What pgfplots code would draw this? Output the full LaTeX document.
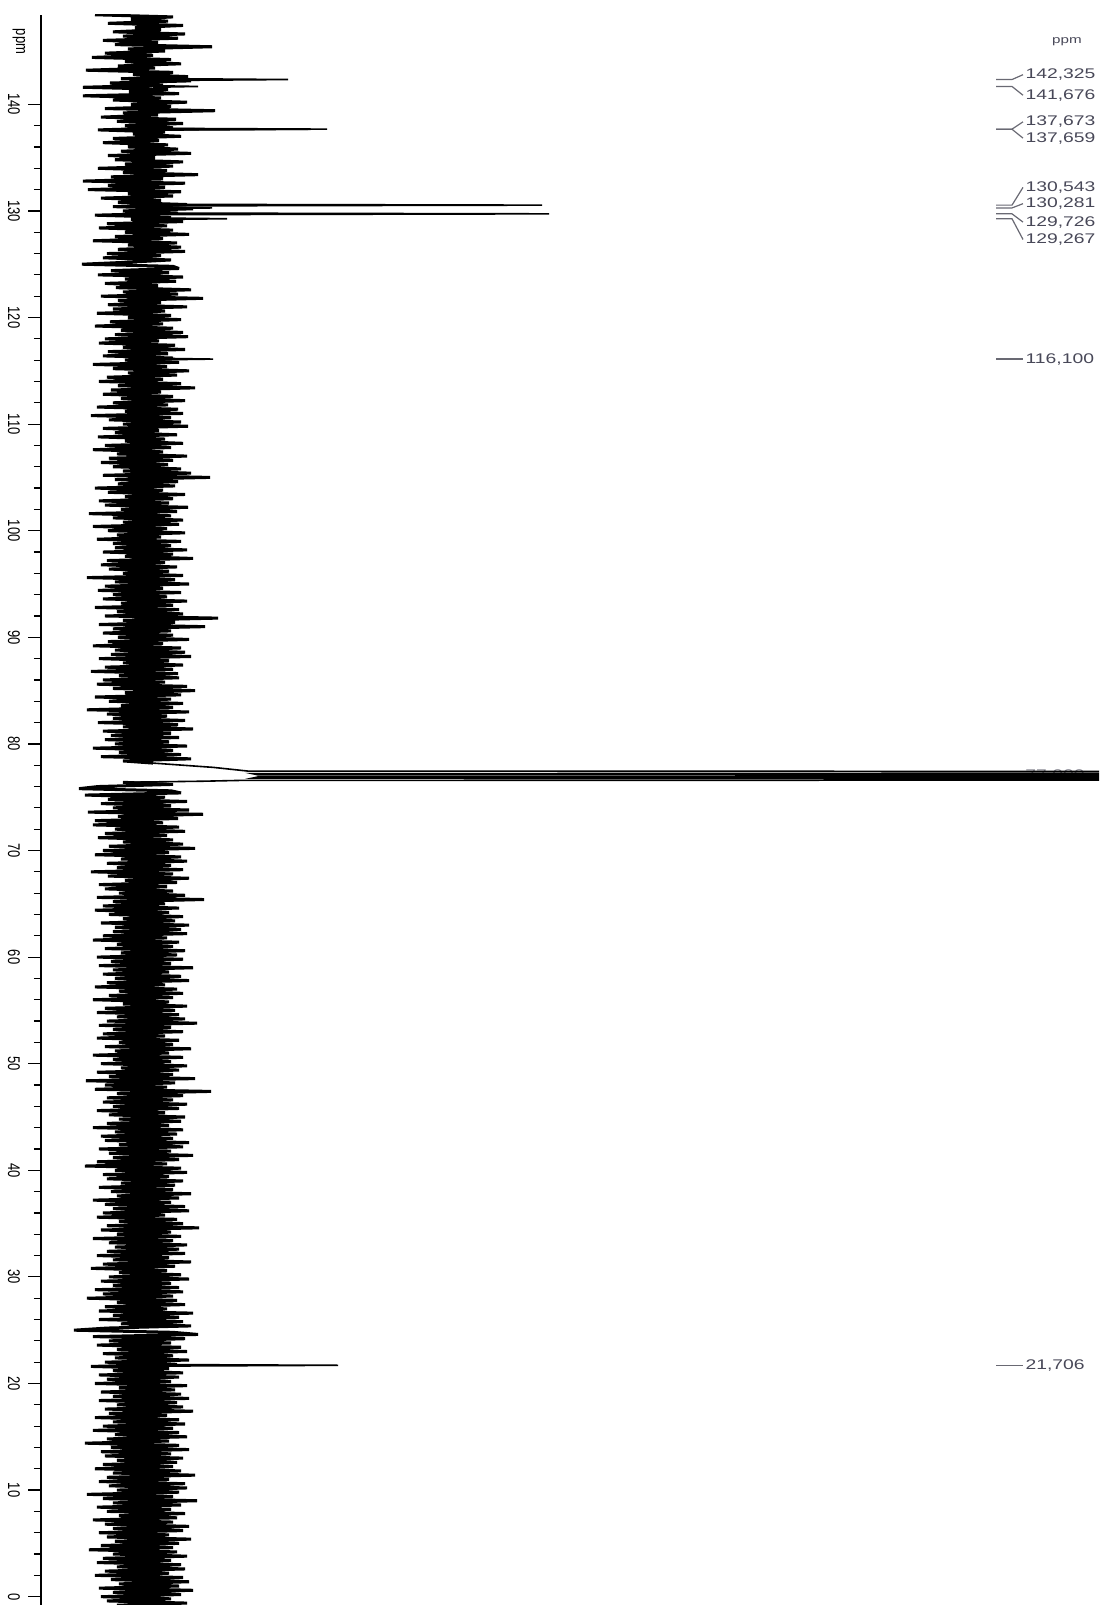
\documentclass[border=0pt]{standalone}
\usepackage{fontspec}
\setmainfont{Liberation Sans}
\usepackage{pgfplots}
\pgfplotsset{compat=1.18}
\definecolor{labgray}{RGB}{72,72,88}
\definecolor{linegray}{RGB}{105,105,115}
\tikzset{
  lab/.style={draw=linegray, line width=0.6pt},
  labtext/.style={text=labgray, inner sep=1pt, font=\fontsize{7}{8}\selectfont},
  ticktext/.style={rotate=-90, inner sep=0pt, font=\fontsize{6.5}{7}\selectfont},
}
\begin{document}
\begin{tikzpicture}
\begin{axis}[
  scale only axis, width=529pt, height=795.1pt,
  xmin=-102, xmax=956, ymin=-0.78, ymax=148.4,
  axis x line=none, axis y line*=left,
  xtick=\empty,
  ytick={0,10,...,140}, minor y tick num=4,
  yticklabels={},
  tick align=outside, major tick length=6.3pt, minor tick length=3.5pt,
  y axis line style={line width=0.6pt, black},
  ytick style={line width=0.6pt, black},
  clip mode=individual,
  spec/.style={black, line width=1.5pt, mark=none, line join=miter, miter limit=2},
  peak/.style={black, line width=0.8pt, mark=none},
]
% noise above the solvent signal
\addplot[spec] coordinates {
(-48,148.4)(30,148.2)(-12,148.0)(25,147.8)(-35,147.6)(40,147.4)(-8,147.2)(18,147.0)(-30,146.8)(42,146.6)
(-20,146.4)(35,146.2)(-40,146.0)(15,145.8)(-28,145.6)(69,145.4)(-15,145.2)(22,145.0)(-38,144.8)(10,144.6)
(-51,144.4)(28,144.2)(-18,144.0)(38,143.8)(-25,143.6)(12,143.4)(-57,143.2)(30,143.0)(-10,142.8)(45,142.6)
(-22,142.4)(48,142.2)(-33,142.0)(20,141.8)(-60,141.6)(25,141.4)(-14,141.2)(36,141.0)(-60,140.8)(18,140.6)
(-30,140.4)(44,140.2)(-12,140.0)(28,139.8)(-38,139.6)(72,139.4)(-20,139.2)(15,139.0)(-42,138.8)(33,138.6)
(-26,138.4)(40,138.2)(-18,138.0)(30,137.8)(-45,137.6)(22,137.4)(-10,137.2)(38,137.0)(-30,136.8)(16,136.6)
(-40,136.4)(25,136.2)(-15,136.0)(35,135.8)(-22,135.6)(48,135.4)(-35,135.2)(12,135.0)(-28,134.8)(40,134.6)
(-18,134.4)(30,134.2)(-45,134.0)(24,133.8)(-20,133.6)(55,133.4)(-32,133.2)(20,133.0)(-60,132.8)(42,132.6)
(-35,132.4)(22,132.2)(-55,132.0)(38,131.8)(-15,131.6)(30,131.4)(-42,131.2)(18,131.0)(-25,130.8)(44,130.6)
(-30,130.4)(50,130.2)(-20,130.0)(35,129.8)(-48,129.6)(28,129.4)(-12,129.2)(40,129.0)(-36,128.8)(24,128.6)
(-44,128.4)(30,128.2)(-18,128.0)(46,127.8)(-28,127.6)(20,127.4)(-50,127.2)(34,127.0)(-15,126.8)(38,126.6)
(-25,126.4)(42,126.2)(-36,126.0)(18,125.8)(-40,125.6)(28,125.4)(-12,125.2)(-61,125.0)(30,124.8)(36,124.6)
(-32,124.4)(26,124.2)(-45,124.0)(40,123.8)(-18,123.6)(33,123.4)(-38,123.2)(15,123.0)(-27,122.8)(48,122.6)
(-20,122.4)(35,122.2)(-42,122.0)(60,121.8)(-25,121.6)(18,121.4)(-35,121.2)(44,121.0)(-30,120.8)(22,120.6)
(-46,120.4)(28,120.2)(-15,120.0)(38,119.8)(-33,119.6)(20,119.4)(-48,119.2)(30,119.0)(-22,118.8)(40,118.6)
(-28,118.4)(45,118.2)(-38,118.0)(16,117.8)(-44,117.6)(32,117.4)(-20,117.2)(42,117.0)(-35,116.8)(25,116.6)
(-40,116.4)(30,116.2)(-18,116.0)(36,115.8)(-50,115.6)(24,115.4)(-30,115.2)(46,115.0)(-15,114.8)(34,114.6)
(-36,114.4)(20,114.2)(-44,114.0)(38,113.8)(-25,113.6)(52,113.4)(-32,113.2)(18,113.0)(-40,112.8)(30,112.6)
(-22,112.4)(42,112.2)(-30,112.0)(25,111.8)(-46,111.6)(35,111.4)(-18,111.2)(40,111.0)(-52,110.8)(28,110.6)
(-34,110.4)(38,110.2)(-20,110.0)(45,109.8)(-40,109.6)(16,109.4)(-28,109.2)(34,109.0)(-45,108.8)(22,108.6)
(-18,108.4)(40,108.2)(-38,108.0)(28,107.8)(-50,107.6)(20,107.4)(-26,107.2)(44,107.0)(-34,106.8)(30,106.6)
(-42,106.4)(25,106.2)(-30,106.0)(38,105.8)(-20,105.6)(48,105.4)(-40,105.2)(67,105.0)(-28,104.8)(35,104.6)
(-25,104.4)(32,104.2)(-48,104.0)(20,103.8)(-35,103.6)(42,103.4)(-18,103.2)(30,103.0)(-44,102.8)(26,102.6)
(-38,102.4)(45,102.2)(-22,102.0)(34,101.8)(-54,101.6)(28,101.4)(-30,101.2)(40,101.0)(-20,100.8)(36,100.6)
(-50,100.4)(24,100.2)(-35,100.0)(42,99.8)(-26,99.6)(18,99.4)(-46,99.2)(38,99.0)(-30,98.8)(28,98.6)
(-28,98.4)(44,98.2)(-40,98.0)(30,97.8)(-18,97.6)(50,97.4)(-36,97.2)(22,97.0)(-42,96.8)(34,96.6)
(-34,96.4)(26,96.2)(-20,96.0)(40,95.8)(-56,95.6)(32,95.4)(-28,95.2)(46,95.0)(-38,94.8)(20,94.6)
(-45,94.4)(38,94.2)(-30,94.0)(24,93.8)(-40,93.6)(44,93.4)(-22,93.2)(30,93.0)(-48,92.8)(36,92.6)
(-26,92.4)(40,92.2)(-38,92.0)(75,91.8)(-20,91.6)(32,91.4)(-44,91.2)(62,91.0)(-30,90.8)(28,90.6)
(-40,90.4)(30,90.2)(-25,90.0)(46,89.8)(-35,89.6)(20,89.4)(-50,89.2)(38,89.0)(-28,88.8)(42,88.6)
(-32,88.4)(48,88.2)(-44,88.0)(26,87.8)(-20,87.6)(40,87.4)(-38,87.2)(30,87.0)(-52,86.8)(35,86.6)
(-24,86.4)(36,86.2)(-40,86.0)(22,85.8)(-46,85.6)(44,85.4)(-30,85.2)(52,85.0)(-18,84.8)(38,84.6)
(-48,84.4)(28,84.2)(-34,84.0)(40,83.8)(-22,83.6)(30,83.4)(-56,83.2)(46,83.0)(-36,82.8)(24,82.6)
(-30,82.4)(42,82.2)(-45,82.0)(35,81.8)(-20,81.6)(50,81.4)(-40,81.2)(28,81.0)(-32,80.8)(36,80.6)
(-38,80.4)(26,80.2)(-28,80.0)(44,79.8)(-50,79.6)(30,79.4)(-24,79.2)(38,79.0)(-42,78.8)(48,78.6)
(-20,78.4)(10,78.2)
};
% noise below the solvent signal
\addplot[spec] coordinates {
(-20,76.4)(30,76.2)(-45,76.0)(-64,75.8)(28,75.6)(38,75.4)(-58,75.2)(22,75.0)(-35,74.8)(44,74.6)
(-42,74.4)(28,74.2)(-30,74.0)(46,73.8)(-55,73.6)(60,73.4)(-25,73.2)(35,73.0)(-48,72.8)(20,72.6)
(-50,72.4)(36,72.2)(-28,72.0)(42,71.8)(-38,71.6)(24,71.4)(-45,71.2)(30,71.0)(-20,70.8)(40,70.6)
(-34,70.4)(52,70.2)(-40,70.0)(26,69.8)(-48,69.6)(38,69.4)(-22,69.2)(44,69.0)(-36,68.8)(28,68.6)
(-26,68.4)(40,68.2)(-52,68.0)(30,67.8)(-35,67.6)(46,67.4)(-18,67.2)(34,67.0)(-44,66.8)(24,66.6)
(-38,66.4)(30,66.2)(-24,66.0)(42,65.8)(-46,65.6)(61,65.4)(-30,65.2)(22,65.0)(-40,64.8)(36,64.6)
(-48,64.4)(26,64.2)(-34,64.0)(40,63.8)(-20,63.6)(32,63.4)(-42,63.2)(46,63.0)(-28,62.8)(38,62.6)
(-30,62.4)(44,62.2)(-40,62.0)(24,61.8)(-50,61.6)(36,61.4)(-26,61.2)(30,61.0)(-38,60.8)(42,60.6)
(-22,60.4)(34,60.2)(-46,60.0)(40,59.8)(-32,59.6)(28,59.4)(-44,59.2)(50,59.0)(-30,58.8)(26,58.6)
(-40,58.4)(38,58.2)(-28,58.0)(46,57.8)(-36,57.6)(22,57.4)(-48,57.2)(34,57.0)(-24,56.8)(40,56.6)
(-34,56.4)(30,56.2)(-50,56.0)(26,55.8)(-20,55.6)(44,55.4)(-38,55.2)(32,55.0)(-46,54.8)(36,54.6)
(-26,54.4)(42,54.2)(-36,54.0)(54,53.8)(-44,53.6)(28,53.4)(-30,53.2)(40,53.0)(-40,52.8)(22,52.6)
(-46,52.4)(36,52.2)(-24,52.0)(30,51.8)(-38,51.6)(48,51.4)(-28,51.2)(26,51.0)(-50,50.8)(40,50.6)
(-30,50.4)(28,50.2)(-42,50.0)(44,49.8)(-22,49.6)(36,49.4)(-46,49.2)(30,49.0)(-34,48.8)(52,48.6)
(-57,48.4)(32,48.2)(-38,48.0)(24,47.8)(-48,47.6)(68,47.4)(-26,47.2)(40,47.0)(-36,46.8)(30,46.6)
(-40,46.4)(44,46.2)(-30,46.0)(36,45.8)(-46,45.6)(22,45.4)(-34,45.2)(42,45.0)(-24,44.8)(38,44.6)
(-36,44.4)(26,44.2)(-50,44.0)(40,43.8)(-28,43.6)(34,43.4)(-42,43.2)(30,43.0)(-38,42.8)(46,42.6)
(-24,42.4)(40,42.2)(-44,42.0)(28,41.8)(-34,41.6)(50,41.4)(-30,41.2)(36,41.0)(-46,40.8)(24,40.6)
(-58,40.4)(38,40.2)(-28,40.0)(44,39.8)(-40,39.6)(26,39.4)(-36,39.2)(40,39.0)(-22,38.8)(32,38.6)
(-44,38.4)(30,38.2)(-32,38.0)(48,37.8)(-26,37.6)(36,37.4)(-50,37.2)(28,37.0)(-38,36.8)(42,36.6)
(-30,36.4)(46,36.2)(-40,36.0)(22,35.8)(-46,35.6)(34,35.4)(-24,35.2)(40,35.0)(-36,34.8)(56,34.6)
(-42,34.4)(28,34.2)(-26,34.0)(38,33.8)(-50,33.6)(30,33.4)(-34,33.2)(44,33.0)(-28,32.8)(36,32.6)
(-36,32.4)(42,32.2)(-46,32.0)(26,31.8)(-30,31.6)(48,31.4)(-40,31.2)(32,31.0)(-52,30.8)(24,30.6)
(-24,30.4)(38,30.2)(-34,30.0)(46,29.8)(-42,29.6)(28,29.4)(-30,29.2)(36,29.0)(-48,28.8)(40,28.6)
(-40,28.4)(30,28.2)(-56,28.0)(34,27.8)(-26,27.6)(42,27.4)(-38,27.2)(24,27.0)(-44,26.8)(50,26.6)
(-30,26.4)(36,26.2)(-44,26.0)(40,25.8)(-22,25.6)(48,25.4)(-36,25.2)(-69,25.0)(30,24.8)(55,24.6)
(-50,24.4)(42,24.2)(-34,24.0)(28,23.8)(-46,23.6)(38,23.4)(-26,23.2)(44,23.0)(-40,22.8)(30,22.6)
(-28,22.4)(46,22.2)(-38,22.0)(34,21.8)(-52,21.6)(26,21.4)(-30,21.2)(40,21.0)(-44,20.8)(36,20.6)
(-36,20.4)(28,20.2)(-48,20.0)(44,19.8)(-24,19.6)(32,19.4)(-42,19.2)(38,19.0)(-30,18.8)(46,18.6)
(-44,18.4)(34,18.2)(-26,18.0)(40,17.8)(-38,17.6)(50,17.4)(-34,17.2)(24,17.0)(-48,16.8)(36,16.6)
(-30,16.4)(42,16.2)(-40,16.0)(30,15.8)(-50,15.6)(36,15.4)(-28,15.2)(44,15.0)(-36,14.8)(26,14.6)
(-58,14.4)(36,14.2)(-32,14.0)(46,13.8)(-42,13.6)(28,13.4)(-38,13.2)(40,13.0)(-26,12.8)(34,12.6)
(-40,12.4)(30,12.2)(-48,12.0)(38,11.8)(-30,11.6)(52,11.4)(-36,11.2)(26,11.0)(-44,10.8)(42,10.6)
(-34,10.4)(44,10.2)(-26,10.0)(36,9.8)(-56,9.6)(30,9.4)(-40,9.2)(54,9.0)(-30,8.8)(38,8.6)
(-46,8.4)(28,8.2)(-36,8.0)(42,7.8)(-24,7.6)(34,7.4)(-50,7.2)(30,7.0)(-38,6.8)(46,6.6)
(-30,6.4)(40,6.2)(-44,6.0)(26,5.8)(-36,5.6)(48,5.4)(-28,5.2)(36,5.0)(-42,4.8)(30,4.6)
(-54,4.4)(34,4.2)(-30,4.0)(44,3.8)(-40,3.6)(28,3.4)(-46,3.2)(38,3.0)(-26,2.8)(42,2.6)
(-38,2.4)(26,2.2)(-48,2.0)(40,1.8)(-32,1.6)(46,1.4)(-24,1.2)(36,1.0)(-44,0.8)(50,0.6)
(-30,0.4)(38,0.2)(-42,0.0)(28,-0.2)(-36,-0.4)(44,-0.6)(-26,-0.8)
};
% hidden label of the solvent signal, under its lines
\node[right, labtext, text=labgray!70] at (axis cs:880,77.0) {\scalebox{1.38}[1]{77,000}};
% CDCl3 triplet (off scale)
\addplot[peak] coordinates {(10,78.2)(40,78.0)(70,77.8)(90,77.6)(105,77.45)(4000,77.318)(110,77.2)(115,77.1)(4000,77.0)(115,76.9)(110,76.8)(4000,76.683)(100,76.58)(60,76.5)(-20,76.4)};
% signals
\addplot[peak] coordinates {(10,142.42)(145,142.325)(10,142.23)};
\addplot[peak] coordinates {(10,141.75)(55,141.676)(10,141.60)};
\addplot[peak] coordinates {(10,137.75)(184,137.673)(10,137.60)};
\addplot[peak] coordinates {(10,137.72)(165,137.659)(10,137.58)};
\addplot[peak] coordinates {(10,130.62)(399,130.543)(10,130.47)};
\addplot[peak] coordinates {(10,130.36)(69,130.281)(10,130.20)};
\addplot[peak] coordinates {(10,129.80)(406,129.726)(10,129.65)};
\addplot[peak] coordinates {(10,129.34)(84,129.267)(10,129.19)};
\addplot[peak] coordinates {(10,116.18)(70,116.100)(10,116.02)};
\addplot[peak] coordinates {(10,21.78)(195,21.706)(10,21.63)};
% tick labels of the ppm axis
\pgfplotsinvokeforeach{0,10,20,30,40,50,60,70,80,90,100,110,120,130,140}{
  \node[ticktext, yshift=-2.5pt] at (axis cs:-124,#1) {\scalebox{1}[1.3]{#1}};
}
\node[ticktext] at (axis cs:-124,145.9) {\scalebox{1}[1.3]{ppm}};
\node[text=labgray, inner sep=0pt, font=\fontsize{5.5}{6}\selectfont] at (axis cs:924,145.9) {\scalebox{1.38}[1]{ppm}};
% peak labels
\draw[lab] (axis cs:853,142.325) -- (axis cs:869,142.325) -- (axis cs:880,142.78) node[right, labtext] {\scalebox{1.38}[1]{142,325}};
\draw[lab] (axis cs:853,141.676) -- (axis cs:869,141.676) -- (axis cs:880,140.85) node[right, labtext] {\scalebox{1.38}[1]{141,676}};
\draw[lab] (axis cs:853,137.673) -- (axis cs:869,137.673) -- (axis cs:880,138.36) node[right, labtext] {\scalebox{1.38}[1]{137,673}};
\draw[lab] (axis cs:853,137.659) -- (axis cs:869,137.659) -- (axis cs:880,136.83) node[right, labtext] {\scalebox{1.38}[1]{137,659}};
\draw[lab] (axis cs:853,130.543) -- (axis cs:869,130.543) -- (axis cs:880,132.21) node[right, labtext] {\scalebox{1.38}[1]{130,543}};
\draw[lab] (axis cs:853,130.281) -- (axis cs:869,130.281) -- (axis cs:880,130.68) node[right, labtext] {\scalebox{1.38}[1]{130,281}};
\draw[lab] (axis cs:853,129.726) -- (axis cs:869,129.726) -- (axis cs:880,128.95) node[right, labtext] {\scalebox{1.38}[1]{129,726}};
\draw[lab] (axis cs:853,129.267) -- (axis cs:869,129.267) -- (axis cs:880,127.32) node[right, labtext] {\scalebox{1.38}[1]{129,267}};
\draw[lab] (axis cs:853,116.100) -- (axis cs:880,116.100) node[right, labtext] {\scalebox{1.38}[1]{116,100}};
\draw[lab] (axis cs:853,21.706) -- (axis cs:880,21.706) node[right, labtext] {\scalebox{1.38}[1]{21,706}};
\end{axis}
\pgfresetboundingbox
\path[use as bounding box] (-20.5pt,0pt) rectangle (529pt,802.5pt);
\end{tikzpicture}
\end{document}
